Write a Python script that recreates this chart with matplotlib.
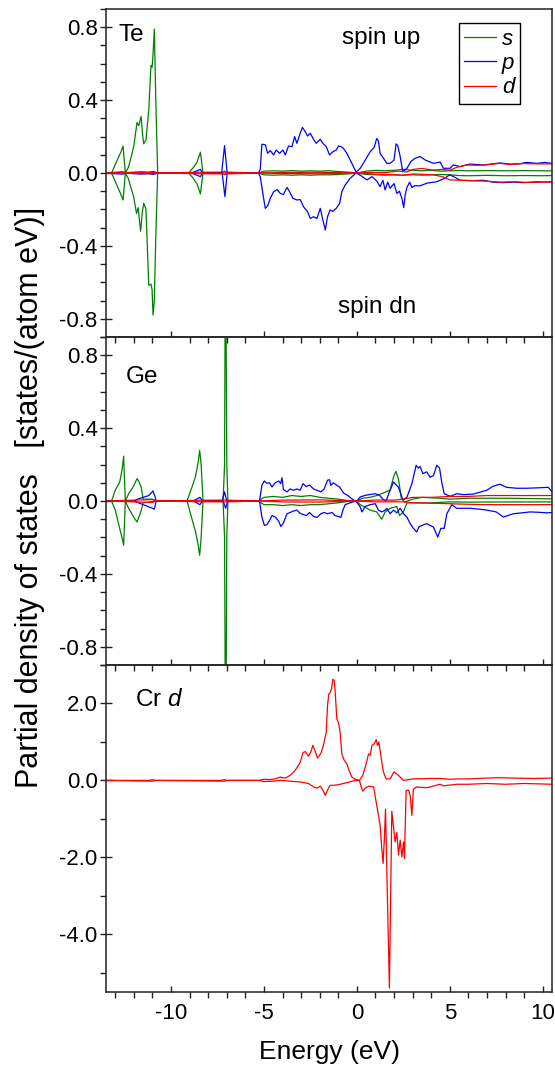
import matplotlib
matplotlib.use("Agg")
import matplotlib.pyplot as plt
from matplotlib.ticker import MultipleLocator, FormatStrFormatter

# ---------------- data (energy in eV, PDOS in states/(atom eV)) ----------------
te_s_up = [(-13.5,0),(-13.2,0),(-12.9,0.07),(-12.69,0.117),(-12.58,0.148),(-12.46,0),(-12.3,0.03),(-12.19,0.07),
           (-12.01,0.145),(-11.83,0.277),(-11.74,0.26),(-11.61,0.31),(-11.52,0.2),(-11.47,0.16),(-11.35,0.18),
           (-11.2,0.346),(-11.08,0.59),(-11.02,0.58),(-10.97,0.65),(-10.9,0.79),(-10.82,0.4),(-10.72,0),
           (-9.05,0),(-8.8,0.03),(-8.6,0.06),(-8.42,0.114),(-8.28,0),(-7.3,0),(-7.12,0.01),(-6.95,0),
           (-5.3,0),(-5.0,0.01),(-4.5,0.012),(-4.0,0.01),(-3.5,0.013),(-3.0,0.01),(-2.5,0.012),(-2.0,0.01),
           (-1.5,0.012),(-1.0,0.008),(-0.5,0.005),(0.0,0.0),(0.5,0.01),(1.0,0.015),(1.5,0.012),(2.0,0.015),
           (2.5,0.02),(3.0,0.015),(3.5,0.012),(4.0,0.015),(4.5,0.01),(5.0,0.012),(5.5,0.014),(6.0,0.012),
           (7.0,0.013),(8.0,0.012),(9.0,0.013),(10.0,0.012),(10.5,0.012)]
te_s_dn = [(-13.5,0),(-13.2,0),(-12.9,-0.07),(-12.69,-0.12),(-12.58,-0.148),(-12.46,0),(-12.3,-0.03),(-12.19,-0.07),
           (-12.01,-0.13),(-11.86,-0.222),(-11.77,-0.19),(-11.64,-0.32),(-11.55,-0.22),(-11.47,-0.165),(-11.35,-0.2),
           (-11.2,-0.616),(-11.08,-0.61),(-11.02,-0.64),(-10.97,-0.78),(-10.9,-0.7),(-10.82,-0.35),(-10.72,0),
           (-9.05,0),(-8.8,-0.03),(-8.6,-0.06),(-8.42,-0.115),(-8.28,0),(-7.3,0),(-7.12,-0.01),(-6.95,0),
           (-5.3,0),(-5.0,-0.01),(-4.5,-0.012),(-4.0,-0.01),(-3.5,-0.012),(-3.0,-0.01),(-2.5,-0.012),(-2.0,-0.01),
           (-1.5,-0.01),(-1.0,-0.008),(-0.5,-0.005),(0.0,0.0),(0.5,-0.008),(1.0,-0.01),(1.5,-0.012),(2.0,-0.01),
           (2.5,-0.012),(3.0,-0.01),(3.5,-0.012),(4.0,-0.01),(4.5,-0.008),(5.0,-0.01),(5.5,-0.014),(6.0,-0.015),
           (7.0,-0.013),(8.0,-0.015),(9.0,-0.014),(10.0,-0.015),(10.5,-0.014)]
te_p_up = [(-13.5,0),(-13.0,0.004),(-12.6,0.006),(-12.4,0),(-12.0,0.004),(-11.6,0.006),(-11.2,0.004),(-10.95,0.008),
           (-10.7,0),(-8.9,0),(-8.42,0.02),(-8.3,0),(-7.28,0),(-7.12,0.15),(-6.98,0),(-5.3,0),(-5.2,0.02),
           (-5.11,0.158),(-4.93,0.155),(-4.8,0.108),(-4.66,0.123),(-4.48,0.099),(-4.34,0.126),(-4.16,0.108),
           (-3.98,0.126),(-3.85,0.099),(-3.68,0.148),(-3.49,0.145),(-3.35,0.2),(-3.23,0.163),(-3.05,0.218),
           (-2.93,0.25),(-2.78,0.227),(-2.65,0.203),(-2.51,0.218),(-2.33,0.185),(-2.19,0.163),(-1.97,0.185),
           (-1.83,0.163),(-1.65,0.145),(-1.47,0.099),(-1.29,0.117),(-1.11,0.126),(-0.99,0.148),(-0.86,0.145),
           (-0.72,0.135),(-0.54,0.108),(-0.36,0.071),(-0.04,0.005),(0.18,0.026),(0.45,0.071),(0.72,0.117),
           (0.93,0.14),(1.07,0.19),(1.16,0.175),(1.25,0.108),(1.43,0.081),(1.61,0.053),(1.79,0.053),(2.0,0.071),
           (2.11,0.16),(2.2,0.15),(2.33,0.09),(2.47,0.007),(2.69,0.025),(2.9,0.062),(3.13,0.081),(3.4,0.09),
           (3.7,0.07),(4.12,0.053),(4.48,0.06),(4.66,0.026),(5.02,0.026),(5.19,0.045),(5.55,0.035),(6.09,0.049),
           (6.8,0.044),(7.3,0.05),(7.7,0.055),(8.24,0.049),(8.7,0.05),(9.14,0.058),(9.68,0.053),(10.1,0.058),
           (10.5,0.053)]
te_p_dn = [(-13.5,0),(-13.0,-0.004),(-12.6,-0.006),(-12.4,0),(-12.0,-0.004),(-11.6,-0.006),(-11.2,-0.004),
           (-10.95,-0.008),(-10.7,0),(-8.9,0),(-8.42,-0.02),(-8.3,0),(-7.25,0),(-7.1,-0.13),(-6.98,0),(-5.3,0),
           (-5.2,-0.02),(-5.06,-0.112),(-4.93,-0.194),(-4.8,-0.18),(-4.66,-0.139),(-4.48,-0.103),(-4.3,-0.091),
           (-4.12,-0.112),(-3.95,-0.118),(-3.76,-0.079),(-3.62,-0.103),(-3.44,-0.139),(-3.23,-0.148),(-3.05,-0.146),
           (-2.87,-0.185),(-2.65,-0.213),(-2.51,-0.249),(-2.33,-0.24),(-2.15,-0.25),(-1.97,-0.194),(-1.83,-0.258),
           (-1.7,-0.313),(-1.58,-0.24),(-1.44,-0.203),(-1.29,-0.21),(-1.11,-0.194),(-0.93,-0.167),(-0.81,-0.103),
           (-0.63,-0.066),(-0.36,-0.029),(-0.04,0),(0.27,-0.018),(0.54,-0.038),(0.81,-0.02),(1.07,-0.044),
           (1.25,-0.075),(1.4,-0.04),(1.52,-0.093),(1.66,-0.05),(1.79,-0.084),(2.0,-0.058),(2.15,-0.112),
           (2.29,-0.1),(2.42,-0.139),(2.52,-0.19),(2.6,-0.12),(2.69,-0.08),(2.84,-0.05),(2.96,-0.08),(3.1,-0.07),
           (3.4,-0.07),(3.8,-0.055),(4.3,-0.048),(4.7,-0.03),(5.0,-0.01),(5.3,-0.025),(5.55,-0.04),(6.2,-0.042),
           (6.8,-0.04),(7.3,-0.05),(7.87,-0.053),(8.4,-0.05),(8.96,-0.053),(9.4,-0.05),(9.68,-0.048),
           (10.1,-0.05),(10.5,-0.048)]
te_d_up = [(-13.5,0),(-12.6,0.003),(-11.0,0.003),(-10.7,0),(-8.4,0.004),(-7.1,0.005),(-5.3,0),(-4.0,0.003),
           (-2.0,0.004),(0.0,0),(1.0,0.004),(1.5,0.002),(2.2,0.01),(2.7,0.006),(3.04,0.02),(3.5,0.025),
           (4.1,0.016),(4.6,0.02),(5.0,0.015),(5.37,0.031),(5.9,0.044),(6.5,0.042),(7.0,0.045),(7.7,0.053),
           (8.2,0.047),(9.0,0.052),(9.7,0.05),(10.5,0.05)]
te_d_dn = [(-13.5,0),(-11.0,-0.003),(-10.7,0),(-8.4,-0.004),(-7.1,-0.005),(-5.3,0),(-4.0,-0.003),(-2.0,-0.004),
           (0.0,0),(1.0,-0.006),(2.0,-0.01),(2.5,-0.012),(3.04,-0.005),(4.1,-0.01),(4.6,-0.02),(5.02,-0.038),
           (5.55,-0.04),(6.2,-0.042),(7.0,-0.045),(7.7,-0.05),(8.5,-0.048),(9.2,-0.052),(10.0,-0.05),(10.5,-0.05)]

ge_s_up = [(-13.5,0),(-13.2,0),(-13.0,0.059),(-12.76,0.105),(-12.64,0.169),(-12.55,0.246),(-12.46,0),(-12.28,0.04),
           (-12.04,0.077),(-11.83,0.123),(-11.72,0.105),(-11.61,0.077),(-11.5,0.01),(-11.0,0.01),(-10.8,0),
           (-9.14,0),(-8.87,0.077),(-8.69,0.132),(-8.55,0.205),(-8.46,0.278),(-8.38,0.2),(-8.28,0),(-7.2,0),
           (-7.12,0.2),(-7.07,1.6),(-7.0,0.2),(-6.94,0),(-5.3,0),(-5.0,0.02),(-4.5,0.025),(-4.0,0.02),(-3.5,0.03),
           (-3.0,0.025),(-2.5,0.03),(-2.0,0.02),(-1.5,0.015),(-1.0,0.01),(-0.3,0.0),(0.0,0),(0.3,0.015),
           (0.7,0.02),(1.07,0.03),(1.43,0.044),(1.79,0.06),(1.97,0.13),(2.1,0.163),(2.24,0.12),(2.4,0.01),
           (2.6,-0.005),(3.0,0.01),(3.5,0.02),(4.5,0.015),(5.0,0.01),(6.0,0.015),(8.0,0.015),(10.5,0.012)]
ge_s_dn = [(-13.5,0),(-13.2,0),(-13.0,-0.05),(-12.76,-0.152),(-12.64,-0.2),(-12.55,-0.243),(-12.46,0),
           (-12.28,-0.04),(-12.0,-0.09),(-11.83,-0.115),(-11.7,-0.08),(-11.6,-0.05),(-11.5,-0.01),(-10.8,0),
           (-9.14,0),(-8.87,-0.1),(-8.69,-0.165),(-8.55,-0.235),(-8.46,-0.298),(-8.38,-0.2),(-8.28,0),(-7.2,0),
           (-7.12,-0.2),(-7.06,-1.6),(-7.0,-0.2),(-6.94,0),(-5.3,0),(-5.0,-0.02),(-4.5,-0.02),(-4.0,-0.025),
           (-3.5,-0.02),(-3.0,-0.025),(-2.5,-0.02),(-2.0,-0.02),(-1.5,-0.015),(-1.0,-0.01),(-0.3,0),(0.0,0),
           (0.18,-0.02),(0.72,-0.05),(1.07,-0.06),(1.34,-0.1),(1.52,-0.06),(1.79,-0.04),(2.15,-0.03),
           (2.3,-0.08),(2.5,-0.06),(2.7,-0.01),(3.0,-0.01),(4.0,-0.01),(5.0,-0.005),(6.0,-0.006),(10.5,-0.005)]
ge_p_up = [(-13.5,0),(-12.0,0),(-11.8,0.01),(-11.5,0.02),(-11.2,0.03),(-10.97,0.055),(-10.85,0.02),(-10.8,0),
           (-8.8,0),(-8.45,0.02),(-8.3,0),(-7.25,0),(-7.12,0.05),(-7.0,0),(-5.3,0),(-5.24,0),(-5.11,0.086),
           (-4.98,0.11),(-4.84,0.097),(-4.7,0.1),(-4.57,0.077),(-4.39,0.1),(-4.21,0.11),(-4.1,0.095),(-4.03,0.128),
           (-3.95,0.063),(-3.76,0.05),(-3.59,0.066),(-3.41,0.059),(-3.23,0.066),(-3.05,0.059),(-2.9,0.095),
           (-2.72,0.079),(-2.55,0.088),(-2.33,0.066),(-2.15,0.059),(-1.94,0.05),(-1.76,0.066),(-1.58,0.114),
           (-1.47,0.117),(-1.4,0.086),(-1.26,0.1),(-1.08,0.086),(-0.93,0.077),(-0.72,0.044),(-0.5,0.031),
           (-0.18,0.005),(0.0,0.0),(0.18,0.022),(0.45,0.031),(0.72,0.036),(0.99,0.04),(1.22,0.031),(1.4,0.01),
           (1.57,0.0),(1.75,0.05),(1.97,0.104),(2.1,0.09),(2.24,0.075),(2.47,0.007),(2.69,0.02),(2.96,0.095),
           (3.19,0.196),(3.31,0.18),(3.4,0.19),(3.55,0.15),(3.76,0.16),(3.94,0.13),(4.12,0.14),(4.3,0.196),
           (4.45,0.18),(4.57,0.1),(4.7,0.04),(5.02,0.026),(5.37,0.04),(5.73,0.035),(6.27,0.038),(6.99,0.059),
           (7.3,0.08),(7.7,0.092),(8.06,0.075),(8.6,0.07),(9.14,0.07),(9.68,0.072),(10.3,0.075),(10.5,0.05)]
ge_p_dn = [(-13.5,0),(-12.0,0),(-11.5,-0.02),(-11.0,-0.04),(-10.9,-0.045),(-10.8,0),(-8.8,0),(-8.45,-0.02),
           (-8.3,0),(-7.2,0),(-7.06,-0.04),(-6.95,0),(-5.3,0),(-5.24,0),(-5.11,-0.088),(-4.98,-0.134),
           (-4.84,-0.13),(-4.66,-0.1),(-4.57,-0.08),(-4.39,-0.088),(-4.21,-0.11),(-4.09,-0.14),(-3.95,-0.12),
           (-3.76,-0.07),(-3.59,-0.063),(-3.41,-0.055),(-3.23,-0.05),(-3.05,-0.068),(-2.87,-0.075),(-2.72,-0.08),
           (-2.55,-0.063),(-2.33,-0.085),(-2.15,-0.09),(-1.94,-0.07),(-1.76,-0.063),(-1.58,-0.07),(-1.34,-0.063),
           (-1.16,-0.08),(-0.99,-0.085),(-0.86,-0.09),(-0.75,-0.05),(-0.63,-0.02),(-0.36,-0.01),(-0.05,0),
           (0.18,-0.033),(0.27,-0.06),(0.45,-0.03),(0.72,-0.02),(0.99,-0.015),(1.16,-0.05),(1.34,-0.06),
           (1.52,-0.05),(1.61,-0.04),(1.79,-0.07),(1.97,-0.05),(2.15,-0.065),(2.33,-0.04),(2.51,-0.07),
           (2.69,-0.088),(2.87,-0.124),(3.04,-0.15),(3.22,-0.17),(3.35,-0.14),(3.49,-0.135),(3.76,-0.124),
           (3.95,-0.135),(4.12,-0.143),(4.35,-0.198),(4.52,-0.15),(4.7,-0.15),(4.84,-0.07),(5.11,-0.02),
           (5.37,-0.04),(6.09,-0.04),(6.6,-0.045),(6.99,-0.05),(7.5,-0.06),(7.88,-0.088),(8.42,-0.07),
           (8.9,-0.065),(9.32,-0.06),(9.8,-0.062),(10.21,-0.065),(10.5,-0.063)]
ge_d_up = [(-13.5,0),(-11.6,0.006),(-11.0,0.008),(-10.8,0),(-8.45,0.004),(-7.1,0.005),(-5.3,0),(-4.0,0.005),
           (-2.0,0.006),(0.0,0),(1.0,0.005),(2.0,0.005),(2.5,0.01),(3.0,0.02),(4.0,0.02),(5.0,0.025),
           (6.0,0.025),(7.0,0.03),(8.0,0.03),(9.0,0.03),(10.5,0.03)]
ge_d_dn = [(-13.5,0),(-11.6,-0.006),(-11.0,-0.008),(-10.8,0),(-8.45,-0.004),(-7.1,-0.005),(-5.3,0),
           (-4.0,-0.005),(-2.0,-0.006),(0.0,0),(1.0,-0.005),(2.0,-0.004),(2.5,-0.005),(3.0,-0.01),(4.0,-0.012),
           (5.0,-0.015),(6.0,-0.018),(7.0,-0.02),(8.0,-0.02),(9.0,-0.02),(10.5,-0.02)]

cr_d_up = [(-13.5,0),(-11.2,0),(-11.0,0.02),(-10.85,0),(-7.3,0),(-7.12,0.02),(-7.0,0),(-5.3,0),(-5.0,0.03),
           (-4.7,0.02),(-4.4,0.04),(-4.12,0.086),(-3.85,0.06),(-3.59,0.13),(-3.32,0.26),(-3.05,0.47),(-2.9,0.72),
           (-2.78,0.75),(-2.6,0.63),(-2.47,0.75),(-2.37,0.91),(-2.24,0.75),(-2.12,0.58),(-1.94,0.7),(-1.8,0.91),
           (-1.65,1.25),(-1.58,1.94),(-1.51,2.25),(-1.45,2.27),(-1.37,2.37),(-1.29,2.63),(-1.22,2.6),(-1.17,2.33),
           (-1.08,1.6),(-0.99,1.5),(-0.9,1.25),(-0.81,0.69),(-0.68,0.52),(-0.54,0.43),(-0.39,0.22),(-0.27,0.086),
           (-0.09,0.03),(0.14,0.0),(0.32,0.13),(0.5,0.43),(0.63,0.69),(0.72,0.65),(0.81,0.91),(0.93,0.95),
           (1.04,1.06),(1.11,0.91),(1.18,1.0),(1.25,0.78),(1.34,0.48),(1.43,0.22),(1.57,0.04),(1.79,0.04),
           (2.0,0.22),(2.24,0.13),(2.51,0.0),(3.04,0.04),(4.0,0.05),(4.48,0.05),(5.0,0.03),(5.5,0.04),
           (6.0,0.04),(7.0,0.06),(7.6,0.07),(8.5,0.06),(9.5,0.05),(10.5,0.06)]
cr_d_dn = [(-13.5,0),(-11.0,-0.02),(-10.8,0),(-7.12,-0.02),(-7.0,0),(-5.3,0),(-5.0,-0.03),(-4.5,-0.02),
           (-4.12,0),(-3.05,-0.04),(-2.6,-0.08),(-2.33,-0.17),(-2.15,-0.2),(-1.97,-0.15),(-1.83,-0.25),
           (-1.7,-0.39),(-1.58,-0.25),(-1.45,-0.13),(-1.08,-0.12),(-0.81,-0.09),(-0.54,-0.06),(-0.18,-0.01),
           (0.14,0),(0.23,-0.17),(0.32,-0.28),(0.45,-0.2),(0.63,-0.15),(0.9,-0.17),(1.07,-0.65),(1.25,-1.17),
           (1.34,-1.77),(1.41,-2.16),(1.48,-1.5),(1.54,-0.75),(1.75,-5.4),(1.88,-0.8),(1.97,-1.2),(2.06,-1.6),
           (2.15,-1.35),(2.24,-1.94),(2.33,-1.55),(2.42,-1.99),(2.51,-1.6),(2.56,-2.03),(2.65,-0.26),
           (2.78,-0.25),(2.87,-0.4),(2.96,-0.91),(3.04,-0.23),(3.22,-0.17),(3.76,-0.19),(3.94,-0.17),
           (4.48,-0.1),(4.66,-0.14),(5.4,-0.1),(6.0,-0.1),(7.0,-0.08),(8.0,-0.1),(9.0,-0.08),(10.5,-0.1)]

orbital_labels = ["s", "p", "d"]
orbital_colors = ["#008000", "#0000ff", "#ff0000"]
panel_names = ["Te", "Ge"]
x_ticklabels = ["-10", "-5", "0", "5", "10"]

# ---------------- style ----------------
FONT = "Liberation Sans"
plt.rcParams["font.family"] = [FONT, "DejaVu Sans"]
plt.rcParams["axes.unicode_minus"] = False
plt.rcParams["mathtext.fontset"] = "custom"
plt.rcParams["mathtext.rm"] = FONT
plt.rcParams["mathtext.it"] = FONT + ":italic"

SPINE = "#222222"
LW = 0.9

fig = plt.figure(figsize=(5.55, 10.68), dpi=100)
fig.patch.set_facecolor("white")

left, width = 106 / 555, 446 / 555
ax1 = fig.add_axes([left, 1 - 337 / 1068, width, 328 / 1068])
ax2 = fig.add_axes([left, 1 - 665 / 1068, width, 328 / 1068])
ax3 = fig.add_axes([left, 1 - 992 / 1068, width, 327 / 1068])
axes = [ax1, ax2, ax3]


def xy(pairs):
    xs, ys = zip(*pairs)
    return list(xs), list(ys)


def plot_pair(ax, up, dn, color, label=None):
    x, y = xy(up)
    ax.plot(x, y, color=color, lw=LW, label=label)
    x, y = xy(dn)
    ax.plot(x, y, color=color, lw=LW)


plot_pair(ax1, te_s_up, te_s_dn, orbital_colors[0], orbital_labels[0])
plot_pair(ax1, te_p_up, te_p_dn, orbital_colors[1], orbital_labels[1])
plot_pair(ax1, te_d_up, te_d_dn, orbital_colors[2], orbital_labels[2])

plot_pair(ax2, ge_s_up, ge_s_dn, orbital_colors[0])
plot_pair(ax2, ge_p_up, ge_p_dn, orbital_colors[1])
plot_pair(ax2, ge_d_up, ge_d_dn, orbital_colors[2])

plot_pair(ax3, cr_d_up, cr_d_dn, orbital_colors[2])

ylims = [(-0.9, 0.9), (-0.9, 0.9), (-5.5, 3.0)]
ymaj = [0.4, 0.4, 2.0]
ymin = [0.1, 0.1, 1.0]
for ax, yl, mj, mn in zip(axes, ylims, ymaj, ymin):
    ax.set_xlim(-13.5, 10.5)
    ax.set_ylim(*yl)
    ax.patch.set_alpha(0)
    ax.xaxis.set_major_locator(MultipleLocator(5))
    ax.xaxis.set_minor_locator(MultipleLocator(1))
    ax.yaxis.set_major_locator(MultipleLocator(mj))
    ax.yaxis.set_minor_locator(MultipleLocator(mn))
    ax.yaxis.set_major_formatter(FormatStrFormatter("%.1f"))
    for sp in ax.spines.values():
        sp.set_color(SPINE)
        sp.set_linewidth(1.1)
    ax.tick_params(axis="x", which="major", direction="in", length=4.2, width=1.0, color=SPINE,
                   top=False, bottom=True, labelsize=16, pad=8)
    ax.tick_params(axis="x", which="minor", direction="out", length=4.2, width=1.0, color=SPINE,
                   top=False, bottom=True)
    ax.tick_params(axis="y", which="major", direction="inout", length=8, width=1.0, color=SPINE,
                   right=False, left=True, labelsize=16, pad=2)
    ax.tick_params(axis="y", which="minor", direction="out", length=4.2, width=1.0, color=SPINE,
                   right=False, left=True)

ax1.tick_params(axis="x", labelbottom=False)
ax2.tick_params(axis="x", labelbottom=False)
ax3.set_xticks([-10, -5, 0, 5, 10])
ax3.set_xticklabels(x_ticklabels)

# panel annotations
ax1.text(0.029, 0.922, panel_names[0], transform=ax1.transAxes, fontsize=17.5, ha="left", va="center")
ax1.text(0.616, 0.912, "spin up", transform=ax1.transAxes, fontsize=17.5, ha="center", va="center")
ax1.text(0.607, 0.092, "spin dn", transform=ax1.transAxes, fontsize=17.5, ha="center", va="center")
ax2.text(0.045, 0.879, panel_names[1], transform=ax2.transAxes, fontsize=17.5, ha="left", va="center")
ax3.text(0.065, 0.893, r"Cr $\mathit{d}$", transform=ax3.transAxes, fontsize=17.5, ha="left", va="center")

leg = ax1.legend(loc="upper right", bbox_to_anchor=(0.928, 0.957), borderaxespad=0,
                 prop={"family": FONT, "style": "italic", "size": 16},
                 handlelength=1.45, handletextpad=0.25, borderpad=0.25, labelspacing=0.15,
                 fancybox=False, framealpha=1, edgecolor="black")
leg.get_frame().set_linewidth(1.0)

fig.text(329 / 555, 1 - 1052 / 1068, "Energy (eV)", fontsize=19, ha="center", va="center")
fig.text(30 / 555, 1 - 497 / 1068, "Partial density of states   [states/(atom eV)]", fontsize=22,
         rotation=90, ha="center", va="center")

fig.savefig("out.png", dpi=100)
